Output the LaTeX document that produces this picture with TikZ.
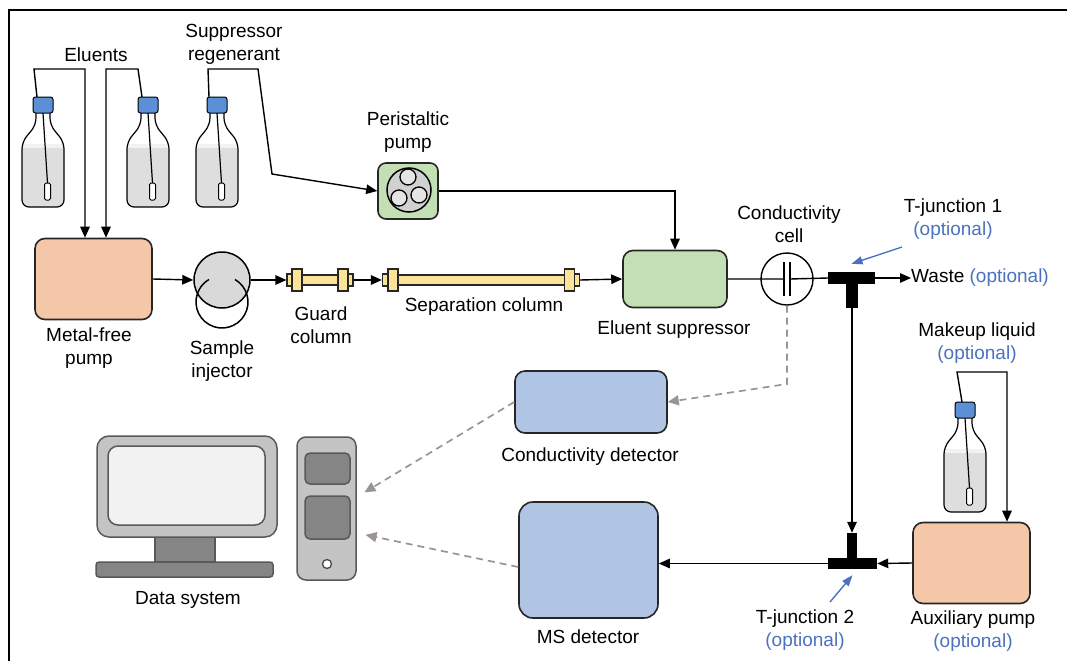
\documentclass[tikz,border=0pt]{standalone}
\usepackage{fontspec}
\setmainfont{Liberation Sans}
\usetikzlibrary{arrows.meta,positioning}
\definecolor{pumporange}{HTML}{F4C7A9}
\definecolor{suppgreen}{HTML}{C5DFB4}
\definecolor{detblue}{HTML}{B0C4E4}
\definecolor{colyellow}{HTML}{FBE39A}
\definecolor{capblue}{HTML}{5B8FD6}
\definecolor{optblue}{HTML}{4A72C0}
\definecolor{pcgrey}{HTML}{C4C4C4}
\definecolor{pcdark}{HTML}{858585}
\definecolor{dashgrey}{HTML}{9A9592}
\tikzset{box/.style={draw=black!85,line width=1.6pt,rounded corners=10pt,inner sep=0pt},pumpbox/.style={box,fill=pumporange,minimum width=117pt,minimum height=81pt},suppbox/.style={box,fill=suppgreen},detbox/.style={box,fill=detblue},coltube/.style={draw=black!85,line width=1.2pt,fill=colyellow,minimum height=10pt,inner sep=0pt},flange/.style={coltube,minimum width=10pt,minimum height=22pt},endcap/.style={coltube,minimum width=5pt,minimum height=12pt},tee/.style={fill=black,inner sep=0pt},pcpart/.style={draw=black!65,line width=1.5pt,inner sep=0pt},flow/.style={-{Triangle[length=11pt,width=9.5pt]},line width=1.4pt},signal/.style={-{Triangle[length=11pt,width=10pt]},draw=dashgrey,line width=1.7pt,dash pattern=on 7pt off 5pt},note/.style={-{Triangle[length=11pt,width=8pt]},draw=optblue,line width=1.4pt},lbl/.style={align=center,inner sep=0pt,font=\fontsize{19}{23}\selectfont},opt/.style={text=optblue}}
\tikzset{bottle/.pic={
  \begin{scope}
    \clip[rounded corners=7pt] (-7,-16) -- (-7,-28) -- (-21,-45) -- (-21,-110) -- (21,-110) -- (21,-45) -- (7,-28) -- (7,-16) -- cycle;
    \fill[black!13] (-22,-47) rectangle (22,-111);
    \fill[black!5] (-22,-47) rectangle (22,-51);
  \end{scope}
  \draw[line width=1.2pt,rounded corners=7pt] (-7,-16) -- (-7,-28) -- (-21,-45) -- (-21,-110) -- (21,-110) -- (21,-45) -- (7,-28) -- (7,-16);
  \draw[line width=1.2pt] (0,-16) -- (4.5,-86);
  \draw[line width=1pt,fill=white,rounded corners=1.5pt] (1.5,-86) rectangle (7.5,-103);
  \draw[line width=1pt,fill=capblue,rounded corners=2.5pt] (-10,0) rectangle (10,-16);
}}

\begin{document}
\begin{tikzpicture}[x=1pt,y=1pt]
\useasboundingbox (0,0) rectangle (1067,-661);
\draw[line width=1.5pt] (9,-661) -- (9,-10) -- (1067,-10);

\pic at (43,-97) {bottle};
\pic at (148,-97) {bottle};
\pic at (217,-97) {bottle};
\pic at (965,-402) {bottle};
\coordinate (b1) at (37,-97);
\coordinate (b2) at (142,-97);
\coordinate (b3) at (209,-97);
\coordinate (bm) at (962,-402);

\node[lbl] (eluents) at (96,-55) {Eluents};
\node[lbl] (regen) at (234,-44) {Suppressor\\regenerant};

\node[pumpbox] (pump) at (93.5,-279) {};
\node[lbl] (pumplab) at (89,-348) {Metal-free\\pump};

\node[circle,draw,line width=1.5pt,fill=black!15,minimum size=56pt,inner sep=0pt] (inj) at (222,-280) {};
\draw[line width=1.5pt] (inj.center) ++(0,-22) ++(60:26) arc[start angle=60,end angle=-240,radius=26];
\node[lbl] (injlab) at (222,-361) {Sample\\injector};

\node[coltube,minimum width=38pt] (gtube) at (320,-280) {};
\node[flange] (gfl1) at (297,-280) {};
\node[flange] (gfl2) at (343,-280) {};
\node[endcap] (gin) at (289.5,-280) {};
\node[endcap] (gout) at (350.5,-280) {};
\node[lbl] (guardlab) at (321,-325) {Guard\\column};

\node[coltube,minimum width=170pt] (stube) at (481,-280) {};
\node[flange] (sfl1) at (393,-280) {};
\node[flange] (sfl2) at (569.5,-280) {};
\node[endcap] (sin) at (385,-280) {};
\node[endcap] (sout) at (577,-280) {};
\node[lbl] (seplab) at (484,-307) {Separation column};

\node[suppbox,minimum width=60pt,minimum height=56pt,rounded corners=8pt] (peri) at (408,-191) {};
\node[circle,draw,line width=1.5pt,fill=black!18,minimum size=44pt,inner sep=0pt] (rotor) at (409,-190) {};
\foreach \p in {(408,-177),(399,-198),(419,-195)}
  \draw[line width=1.3pt,fill=black!10] \p circle (8);
\node[lbl] (perilab) at (408,-132) {Peristaltic\\pump};

\node[suppbox,minimum width=104pt,minimum height=57pt] (supp) at (675,-279) {};
\node[lbl] (supplab) at (674,-330) {Eluent suppressor};

\node[circle,draw,line width=1.4pt,minimum size=52pt,inner sep=0pt] (cell) at (787,-279) {};
\coordinate (plateL) at (784,-279);
\coordinate (plateR) at (790,-279);
\draw[line width=1.4pt] (784,-262) -- (784,-296) (790,-262) -- (790,-296);
\node[lbl] (celllab) at (789,-224) {Conductivity\\cell};

\node[tee,minimum width=47pt,minimum height=12pt] (tj1) at (851.5,-278) {};
\node[tee,minimum width=12pt,minimum height=24pt] (tj1s) at (852,-296) {};
\node[lbl] (tj1lab) at (953,-219) {T-junction 1\\\textcolor{optblue}{(optional)}};
\coordinate (n1) at (902,-247);
\node[lbl,anchor=west] (waste) at (911,-278) {Waste \textcolor{optblue}{(optional)}};

\node[lbl] (makeup) at (977,-343) {Makeup liquid\\\textcolor{optblue}{(optional)}};
\node[pumpbox] (aux) at (971.5,-563) {};
\node[lbl] (auxlab) at (973,-631) {Auxiliary pump\\\textcolor{optblue}{(optional)}};

\node[tee,minimum width=10pt,minimum height=25pt] (tj2s) at (852,-545.5) {};
\node[tee,minimum width=49pt,minimum height=11pt] (tj2) at (852.5,-563.5) {};
\node[lbl] (tj2lab) at (805,-630) {T-junction 2\\\textcolor{optblue}{(optional)}};
\coordinate (n2) at (830,-602);

\node[detbox,minimum width=152pt,minimum height=62pt] (cd) at (591,-402) {};
\node[lbl] (cdlab) at (590,-457) {Conductivity detector};
\node[detbox,minimum width=139pt,minimum height=116pt,rounded corners=14pt] (ms) at (588.5,-560) {};
\node[lbl] (mslab) at (588,-637) {MS detector};

\node[pcpart,fill=pcdark,minimum width=60pt,minimum height=25pt] (neck) at (185,-549.5) {};
\node[pcpart,fill=pcdark,minimum width=177pt,minimum height=15pt,rounded corners=3pt] (base) at (184.5,-569.5) {};
\node[pcpart,fill=pcgrey,minimum width=180pt,minimum height=101pt,rounded corners=12pt] (mon) at (187,-486.5) {};
\node[pcpart,fill=black!5,minimum width=157pt,minimum height=79pt,rounded corners=10pt] (screen) at (186.5,-485.5) {};
\node[pcpart,fill=pcgrey,minimum width=59pt,minimum height=143pt,rounded corners=9pt] (tower) at (326.5,-508.5) {};
\node[pcpart,fill=pcdark,minimum width=45pt,minimum height=31pt,rounded corners=5pt] (drive1) at (327.5,-468.5) {};
\node[pcpart,fill=pcdark,minimum width=45pt,minimum height=43pt,rounded corners=5pt] (drive2) at (327.5,-517.5) {};
\node[circle,draw=black!70,line width=1.3pt,fill=white,minimum size=9pt,inner sep=0pt] (power) at (327,-564) {};
\node[lbl] (pclab) at (188,-600) {Data system};

\draw[flow] (b1) -- (34,-69) -| ([xshift=-8.5pt]pump.north);
\draw[flow] (b2) -- (138,-69) -| ([xshift=12.5pt]pump.north);
\draw[flow] (b3) -- (208,-69) -- (258,-69) -- (272,-174) -- (peri.west);
\draw[flow] (peri.east) -| (supp.north);
\draw[flow] (pump.east) -- (inj.west);
\draw[flow] (inj.east) -- (gin.west);
\draw[flow] (gout.east) -- (sin.west);
\draw[flow] (sout.east) -- (supp.west);
\draw[line width=1.4pt] (supp.east) -- (plateL) (plateR) -- (tj1.west);
\draw[flow] (tj1.east) -- (waste.west);
\draw[flow] (tj1s.south) -- (tj2s.north);
\draw[flow] (bm) -- (957,-372) -| ([xshift=35.5pt]aux.north);
\draw[flow] (aux.west) -- (tj2.east);
\draw[flow] (tj2.west) -- (tj2.west -| ms.east);
\draw[note] (n1) -- ([yshift=8pt]tj1.north);
\draw[note] (n2) -- ([yshift=-6pt]tj2.south);

\coordinate (dbend) at (787,-384);
\draw[signal] (cell.south) -- (dbend) -- (cd.east);
\draw[signal,shorten >=9pt] (cd.west) -- ([yshift=11.5pt]tower.east);
\draw[signal,shorten >=9pt] ([yshift=-7pt]ms.west) -- ([yshift=-24.5pt]tower.east);
\end{tikzpicture}
\end{document}
